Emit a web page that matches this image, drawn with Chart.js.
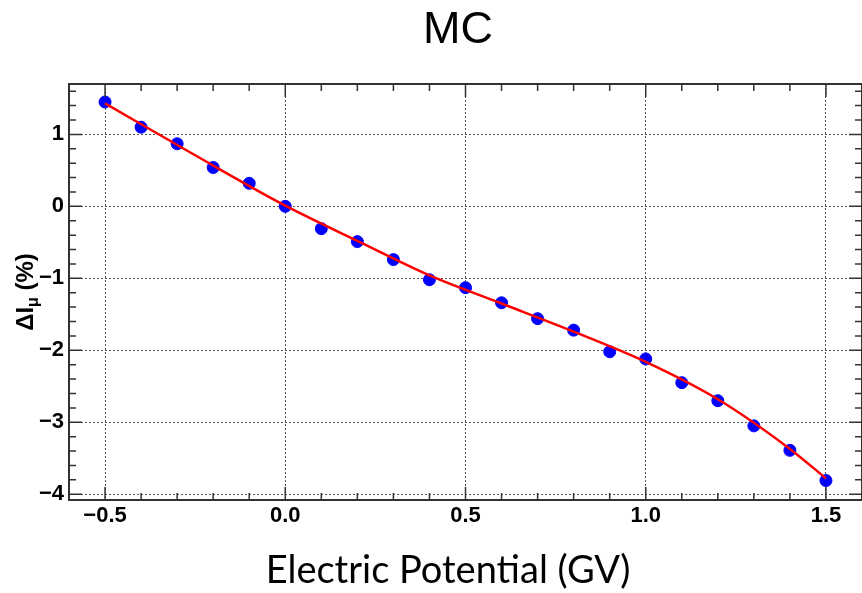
<!DOCTYPE html>
<html>
<head>
<meta charset="utf-8">
<title>MC</title>
<script src="https://cdn.jsdelivr.net/npm/chart.js@4.4.1/dist/chart.umd.min.js"></script>
<style>
    html, body { margin: 0; padding: 0; background: #ffffff; }
    #chart { display: block; }
</style>
</head>
<body>
<canvas id="chart" width="862" height="593"></canvas>
<script>
// Данные графика
const pointX = [-0.5, -0.4, -0.3, -0.2, -0.1, 0.0, 0.1, 0.2, 0.3, 0.4, 0.5, 0.6, 0.7, 0.8, 0.9, 1.0, 1.1, 1.2, 1.3, 1.4, 1.5];
const pointY = [1.45, 1.10, 0.87, 0.54, 0.32, 0.00, -0.31, -0.49, -0.74, -1.02, -1.13, -1.34, -1.56, -1.72, -2.02, -2.12, -2.45, -2.70, -3.05, -3.39, -3.81];

// Кривая аппроксимации
const fitX = [-0.5, -0.25, 0.0, 0.2, 0.4, 0.6, 0.8, 1.0, 1.2, 1.4, 1.5];
const fitY = [1.43, 0.71, 0.01, -0.48, -0.96, -1.35, -1.74, -2.16, -2.68, -3.37, -3.78];

// Подписи делений
const xTickValues = [-0.5, 0.0, 0.5, 1.0, 1.5];
const xTickLabels = ['\u22120.5', '0.0', '0.5', '1.0', '1.5'];
const yTickValues = [-4, -3, -2, -1, 0, 1];
const yTickLabels = ['\u22124', '\u22123', '\u22122', '\u22121', '0', '1'];

const AXIS_FONT = '"Liberation Sans", Arial, Helvetica, sans-serif';

function findLabel(values, labels, v) {
    for (let i = 0; i < values.length; i++) {
        if (Math.abs(values[i] - v) < 1e-6) return labels[i];
    }
    return '';
}

function isMajor(values, v) {
    return values.some(m => Math.abs(m - v) < 1e-6);
}

// Рамка, внутренние деления, заголовки
const framePlugin = {
    id: 'frame',
    afterDraw(chart) {
        const ctx = chart.ctx;
        const area = chart.chartArea;
        const xs = chart.scales.x;
        const ys = chart.scales.y;

        ctx.save();
        ctx.strokeStyle = '#333333';
        ctx.lineWidth = 1.5;
        ctx.beginPath();
        xs.ticks.forEach(t => {
            const px = xs.getPixelForValue(t.value);
            const len = isMajor(xTickValues, t.value) ? 13 : 7;
            ctx.moveTo(px, area.bottom);
            ctx.lineTo(px, area.bottom - len);
            ctx.moveTo(px, area.top);
            ctx.lineTo(px, area.top + len);
        });
        ys.ticks.forEach(t => {
            const py = ys.getPixelForValue(t.value);
            const len = isMajor(yTickValues, t.value) ? 13 : 7;
            ctx.moveTo(area.left, py);
            ctx.lineTo(area.left + len, py);
            ctx.moveTo(area.right, py);
            ctx.lineTo(area.right - len, py);
        });
        ctx.stroke();

        ctx.lineWidth = 2;
        ctx.strokeRect(area.left, area.top, area.right - area.left, area.bottom - area.top);

        ctx.fillStyle = '#000000';
        ctx.textBaseline = 'alphabetic';

        // Заголовок
        ctx.textAlign = 'center';
        ctx.font = '45px ' + AXIS_FONT;
        ctx.fillText('MC', 458, 43);

        // Подпись оси X
        ctx.font = '38px Lato, "Open Sans", sans-serif';
        ctx.fillText('Electric Potential (GV)', 448, 583);

        // Подпись оси Y с индексом
        ctx.textAlign = 'left';
        const big = 'bold 24px ' + AXIS_FONT;
        const small = 'bold 16px ' + AXIS_FONT;
        ctx.font = big;
        const w1 = ctx.measureText('\u0394I').width;
        const w3 = ctx.measureText(' (%)').width;
        ctx.font = small;
        const w2 = ctx.measureText('\u03bc').width;
        const total = w1 + w2 + w3;
        ctx.translate(33, (area.top + area.bottom) / 2);
        ctx.rotate(-Math.PI / 2);
        const x0 = -total / 2;
        ctx.font = big;
        ctx.fillText('\u0394I', x0, 0);
        ctx.font = small;
        ctx.fillText('\u03bc', x0 + w1, 5);
        ctx.font = big;
        ctx.fillText(' (%)', x0 + w1 + w2, 0);
        ctx.restore();
    }
};

document.addEventListener('DOMContentLoaded', function() {
    const ctx = document.getElementById('chart').getContext('2d');

    const fitData = fitX.map((x, i) => ({ x: x, y: fitY[i] }));
    const pointData = pointX.map((x, i) => ({ x: x, y: pointY[i] }));

    new Chart(ctx, {
        type: 'scatter',
        data: {
            datasets: [{
                type: 'line',
                label: 'fit',
                data: fitData,
                borderColor: '#ff0000',
                borderWidth: 2.5,
                pointRadius: 0,
                showLine: true,
                fill: false,
                cubicInterpolationMode: 'monotone'
            }, {
                label: 'MC',
                data: pointData,
                backgroundColor: '#0000ff',
                borderColor: '#0000ff',
                pointRadius: 6,
                pointHoverRadius: 6
            }]
        },
        options: {
            responsive: false,
            animation: false,
            layout: { autoPadding: false, padding: { top: 84, left: 0, right: 0, bottom: 0 } },
            plugins: {
                legend: { display: false },
                tooltip: { enabled: false },
                title: { display: false }
            },
            scales: {
                x: {
                    type: 'linear',
                    min: -0.6,
                    max: 1.6,
                    afterFit: scale => {
                        scale.height = 93;
                        // убираем запас по краям, чтобы рамка дошла до правого края
                        scale.paddingLeft = 0;
                        scale.paddingRight = 0;
                    },
                    grid: {
                        drawTicks: false,
                        lineWidth: 1,
                        color: c => (c.tick && isMajor(xTickValues, c.tick.value)) ? '#555555' : 'rgba(0,0,0,0)'
                    },
                    border: { display: false, dash: [2, 2] },
                    ticks: {
                        stepSize: 0.1,
                        includeBounds: false,
                        autoSkip: false,
                        maxRotation: 0,
                        padding: 3,
                        color: '#000000',
                        font: { family: AXIS_FONT, size: 22, weight: 'bold' },
                        callback: v => findLabel(xTickValues, xTickLabels, v)
                    }
                },
                y: {
                    type: 'linear',
                    min: -4.08,
                    max: 1.7,
                    afterFit: scale => { scale.width = 69; },
                    grid: {
                        drawTicks: false,
                        lineWidth: 1,
                        color: c => (c.tick && isMajor(yTickValues, c.tick.value)) ? '#555555' : 'rgba(0,0,0,0)'
                    },
                    border: { display: false, dash: [2, 2] },
                    ticks: {
                        stepSize: 0.2,
                        includeBounds: false,
                        autoSkip: false,
                        padding: 5,
                        color: '#000000',
                        font: { family: AXIS_FONT, size: 22, weight: 'bold' },
                        callback: v => findLabel(yTickValues, yTickLabels, v)
                    }
                }
            }
        },
        plugins: [framePlugin]
    });
});
</script>
</body>
</html>
